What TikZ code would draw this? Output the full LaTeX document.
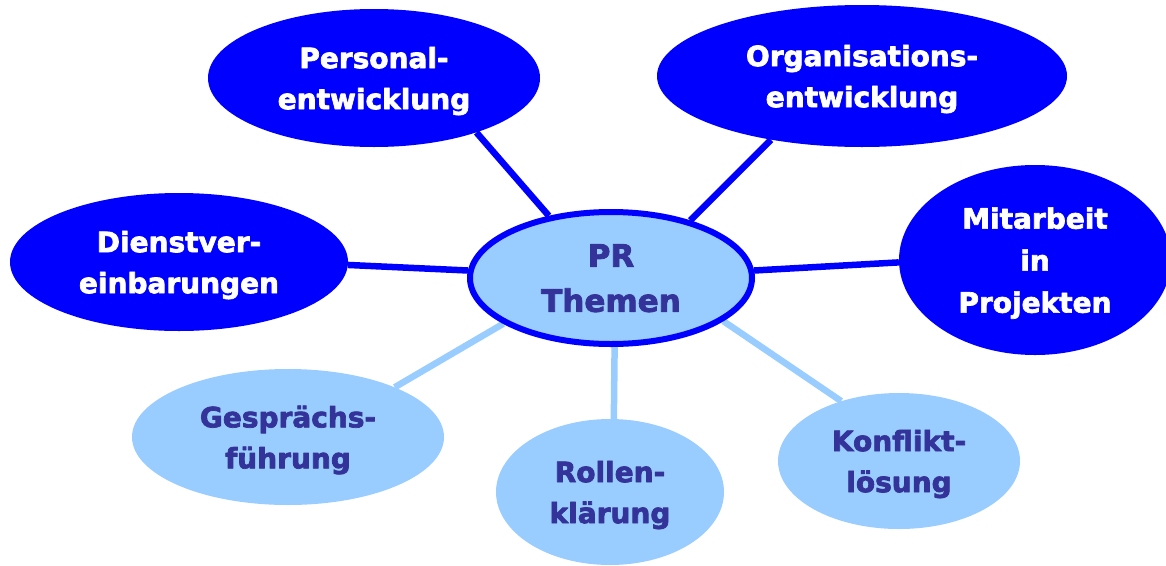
\documentclass[tikz,border=0pt]{standalone}
\usepackage{fontspec}
\setmainfont{DejaVu Sans}[BoldFont={DejaVu Sans Bold}, BoldFeatures={FakeBold=2.5}]
\usetikzlibrary{shapes.geometric,backgrounds}
\definecolor{blau}{RGB}{0,0,255}
\definecolor{hellblau}{RGB}{153,204,255}
\definecolor{schrift}{RGB}{51,51,153}
\begin{document}
\begin{tikzpicture}[x=1pt, y=-1pt, line join=round, line cap=round,
	font=\bfseries\fontsize{28}{41}\selectfont,
	oval/.style={ellipse, inner sep=0pt, align=center, text depth=0pt},
	dunkel/.style={oval, fill=blau, text=white},
	hell/.style={oval, fill=hellblau, text=schrift},
	dlinie/.style={blau, line width=6.5pt},
	hlinie/.style={hellblau, line width=6.5pt}]
	\useasboundingbox (0,0) rectangle (1166,565);
	% Mitte
	\node[hell, draw=blau, line width=6pt, minimum width=282pt, minimum height=132pt,
		font=\bfseries\fontsize{31}{45}\selectfont] (pr) at (611,278) {PR\\Themen};
	% dunkle Themen
	\node[dunkel, minimum width=332pt, minimum height=138pt] (pers) at (374,78) {Personal-\\entwicklung};
	\node[dunkel, minimum width=410pt, minimum height=142pt] (org) at (862,76) {Organisations-\\entwicklung};
	\node[dunkel, minimum width=338pt, minimum height=138pt] (dienst) at (179,262) {Dienstver-\\einbarungen};
	\node[dunkel, minimum width=272pt, minimum height=190pt,
		font=\bfseries\fontsize{28}{42}\selectfont] (mit) at (1035,260) {Mitarbeit\\in\\Projekten};
	% helle Themen
	\node[hell, minimum width=312pt, minimum height=136pt] (gespr) at (288,437) {Gesprächs-\\führung};
	\node[hell, minimum width=228pt, minimum height=146pt] (rol) at (610,492) {Rollen-\\klärung};
	\node[hell, minimum width=242pt, minimum height=136pt] (konf) at (899,461) {Konflikt-\\lösung};
	\begin{scope}[on background layer]
		\foreach \a/\b in {135/pers.-28, 36/org.-145, 177/dienst.-1, 3/mit.181}
		\draw[dlinie] (pr.\a) -- (\b);
		\foreach \a/\b in {-157/gespr.25, -87.5/rol.87, -21/konf.134}
		\draw[hlinie] (pr.\a) -- (\b);
	\end{scope}
\end{tikzpicture}
\end{document}
